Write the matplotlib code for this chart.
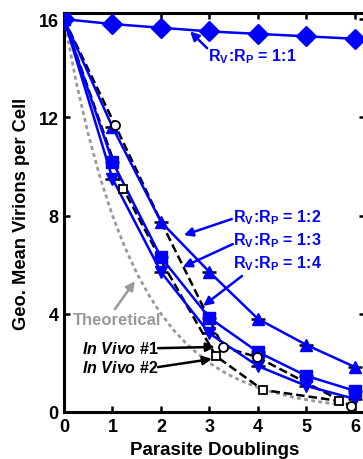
import matplotlib
matplotlib.use('Agg')
import matplotlib.pyplot as plt

plt.rcParams['font.family'] = ['Liberation Sans', 'DejaVu Sans']
plt.rcParams['font.weight'] = 'bold'
plt.rcParams['mathtext.fontset'] = 'custom'
plt.rcParams['mathtext.rm'] = 'Liberation Sans:bold'
plt.rcParams['mathtext.it'] = 'Liberation Sans:bold:italic'
plt.rcParams['mathtext.bf'] = 'Liberation Sans:bold'

# ---- data ----
doublings = [0, 1, 2, 3, 4, 5, 6]
ratio_1_1 = [16, 15.8, 15.65, 15.5, 15.4, 15.3, 15.2]
ratio_1_2 = [16, 11.6, 7.74, 5.7, 3.79, 2.73, 1.83]
ratio_1_3 = [16, 10.2, 6.3, 3.83, 2.44, 1.47, 0.86]
ratio_1_4 = [16, 9.5, 5.7, 3.2, 1.87, 1.06, 0.53]

invivo1_x = [0, 1.05, 2.0, 3.28, 3.98, 5.92]
invivo1_y = [16, 11.7, 7.75, 2.65, 2.24, 0.24]
invivo2_x = [0, 1.22, 2.05, 3.13, 4.1, 5.67]
invivo2_y = [16, 9.1, 6.0, 2.28, 0.9, 0.45]

theory_x = [0, 0.25, 0.5, 0.75, 1, 1.25, 1.5, 1.75, 2, 2.25, 2.5, 2.75, 3,
            3.25, 3.5, 3.75, 4, 4.25, 4.5, 4.75, 5, 5.25, 5.5, 5.75, 6]
theory_y = [16, 13.45, 11.31, 9.51, 8.0, 6.73, 5.66, 4.76, 4.0, 3.36, 2.83,
            2.38, 2.0, 1.68, 1.41, 1.19, 1.0, 0.84, 0.71, 0.59, 0.5, 0.42,
            0.35, 0.30, 0.25]

x_ticks = [0, 1, 2, 3, 4, 5, 6]
y_ticks = [0, 4, 8, 12, 16]

BLUE = '#0000ff'
GRAY = '#999999'

fig = plt.figure(figsize=(3.63, 4.60), dpi=100)
ax = fig.add_axes([64/363, 47/460, 300.7/363, 399/460])

# theoretical
ax.plot(theory_x, theory_y, color=GRAY, lw=2.0, dashes=(1.4, 1.2), zorder=2)

# in vivo dashed lines
ax.plot(invivo1_x, invivo1_y, color='black', lw=1.8, dashes=(3.4, 1.6), zorder=3)
ax.plot(invivo2_x, invivo2_y, color='black', lw=1.8, dashes=(3.4, 1.6), zorder=3)

# error caps (black) behind blue markers
for ys in (ratio_1_2, ratio_1_3, ratio_1_4):
    ax.plot(doublings[1:], ys[1:], ls='none', marker='_', ms=10, mew=1.8,
            color='black', zorder=4)

ax.plot(doublings, ratio_1_1, color=BLUE, lw=1.8, marker='D', ms=10, zorder=5)
ax.plot(doublings, ratio_1_2, color=BLUE, lw=1.8, marker='^', ms=8.5, zorder=5)
ax.plot(doublings, ratio_1_3, color=BLUE, lw=1.8, marker='s', ms=8, zorder=5)
ax.plot(doublings, ratio_1_4, color=BLUE, lw=1.8, marker='v', ms=8.5, zorder=5)

ax.plot(invivo1_x, invivo1_y, ls='none', marker='o', ms=6.5, mfc='white',
        mec='black', mew=1.3, zorder=6, markevery=[1, 3, 4, 5])
ax.plot(invivo2_x, invivo2_y, ls='none', marker='s', ms=6, mfc='white',
        mec='black', mew=1.3, zorder=6, markevery=[1, 3, 4, 5])

ax.set_xlim(0, 6.2)
ax.set_ylim(0, 16.25)
ax.set_xticks(x_ticks)
ax.set_yticks(y_ticks)
ax.tick_params(direction='in', length=4, width=1.8, top=True, right=True,
               labelsize=13, pad=4)
for lab in ax.get_xticklabels() + ax.get_yticklabels():
    lab.set_fontweight('bold')
for s in ax.spines.values():
    s.set_linewidth(2.2)

ax.set_xlabel('Parasite Doublings', fontsize=13.5, fontweight='bold', labelpad=4.5)
ax.set_ylabel('Geo. Mean Virions per Cell', fontsize=13.2, fontweight='bold', labelpad=6)

# annotations
afs = 11.5
def arrow(tip, tail, color):
    ax.annotate('', xy=tip, xytext=tail,
                arrowprops=dict(arrowstyle='-|>', color=color, lw=1.8,
                                mutation_scale=13, shrinkA=0, shrinkB=0),
                zorder=7, annotation_clip=False)

lbl = r'$\mathrm{R_V\!:\!R_P}$ = '
ax.text(2.97, 14.5, lbl + '1:1', color=BLUE, fontsize=afs, ha='left', va='center')
arrow((2.6, 15.5), (2.95, 14.82), BLUE)
ax.text(3.48, 7.94, lbl + '1:2', color=BLUE, fontsize=afs, ha='left', va='center')
arrow((2.47, 7.2), (3.46, 7.86), BLUE)
ax.text(3.48, 7.0, lbl + '1:3', color=BLUE, fontsize=afs, ha='left', va='center')
arrow((2.45, 5.9), (3.48, 6.84), BLUE)
ax.text(3.48, 6.1, lbl + '1:4', color=BLUE, fontsize=afs, ha='left', va='center')
arrow((2.87, 4.32), (3.67, 5.54), BLUE)

ax.text(0.19, 3.75, 'Theoretical', color=GRAY, fontsize=afs + 0.5, ha='left', va='center')
arrow((1.46, 5.33), (1.05, 4.19), GRAY)

ax.text(0.37, 2.6, r'$\mathit{In\ Vivo}$ #1', color='black', fontsize=afs,
        ha='left', va='center')
arrow((3.11, 2.65), (1.94, 2.6), 'black')
ax.text(0.37, 1.83, r'$\mathit{In\ Vivo}$ #2', color='black', fontsize=afs,
        ha='left', va='center')
arrow((3.05, 2.16), (1.94, 1.83), 'black')

fig.savefig('out.png', dpi=100)
